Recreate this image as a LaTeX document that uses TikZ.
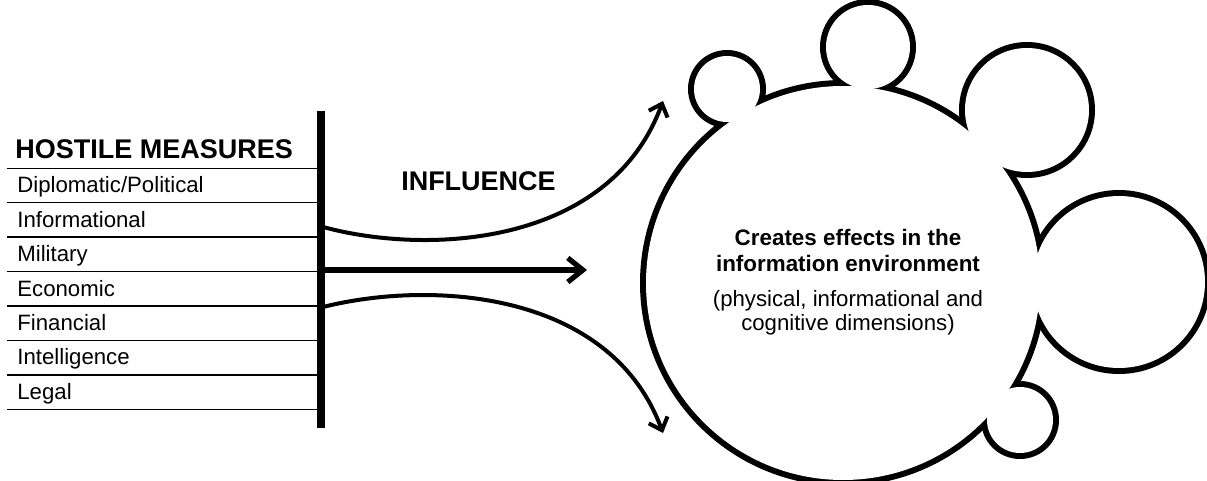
\documentclass[tikz,border=0pt]{standalone}
\usepackage{fontspec}
\setmainfont{Liberation Sans}
\usetikzlibrary{arrows.meta, positioning}

\begin{document}
\begin{tikzpicture}[x=0.5pt,y=-0.5pt,
  rowline/.style={line width=0.75pt},
  measure/.style={anchor=base west, inner sep=0pt, font=\fontsize{11.1}{13}\selectfont},
  title/.style={anchor=base, inner sep=0pt, font=\fontsize{13.5}{16}\selectfont\bfseries},
  effbold/.style={anchor=base, inner sep=0pt, font=\fontsize{11.2}{13}\selectfont\bfseries},
  effplain/.style={anchor=base, inner sep=0pt, font=\fontsize{11.1}{13}\selectfont},
  push/.style={line width=2pt, -{Straight Barb[length=5.5pt,width=10pt]}}]
\useasboundingbox (0,0) rectangle (1207,481);
% hostile measures list
\node[title, anchor=base west] (hostile) at (15,158.3) {HOSTILE MEASURES};
\draw[rowline] (7,168.3) -- (321,168.3);
\foreach \m [count=\i] in {{Diplomatic/Political},Informational,Military,Economic,Financial,Intelligence,Legal}{
  \node[measure] (m\i) at (17,158.3+34.43*\i) {\m};
  \draw[rowline] (7,168.3+34.43*\i) -- (321,168.3+34.43*\i);
}
\coordinate (bartop) at (321,110.7);
\coordinate (barbot) at (321,428.3);
\draw[line width=4pt] (bartop) -- (barbot);
% influence arrows
\node[title] (influence) at (478.5,190.7) {INFLUENCE};
\coordinate (upstart) at (323,227);
\coordinate (uptip) at (663,101);
\coordinate (midstart) at (323,270);
\coordinate (midtip) at (587,270);
\coordinate (lowstart) at (323,307);
\coordinate (lowtip) at (663,433);
\draw[push] (upstart) .. controls (430,256) and (610,245) .. (uptip);
\draw[line width=2.6pt, -{Straight Barb[length=7.5pt,width=12pt]}] (midstart) -- (midtip);
\draw[push] (lowstart) .. controls (430,280) and (610,290) .. (lowtip);
% information environment
\foreach \cx/\cy/\r in {843/283/197, 727/89/33, 868/47/42, 1027/110/62, 1119/282/86, 1020/420/33}
  \draw[line width=6pt] (\cx,\cy) circle[radius=\r*0.5pt];
\foreach \cx/\cy/\r in {843/283/197, 727/89/33, 868/47/42, 1027/110/62, 1119/282/86, 1020/420/33}
  \fill[white] (\cx,\cy) circle[radius=\r*0.5pt];
\node[effbold] (eff1) at (848,246) {Creates effects in the};
\node[effbold] (eff2) at (848,271.7) {information environment};
\node[effplain] (dim1) at (848,306.7) {(physical, informational and};
\node[effplain] (dim2) at (848,330) {cognitive dimensions)};
\end{tikzpicture}
\end{document}
